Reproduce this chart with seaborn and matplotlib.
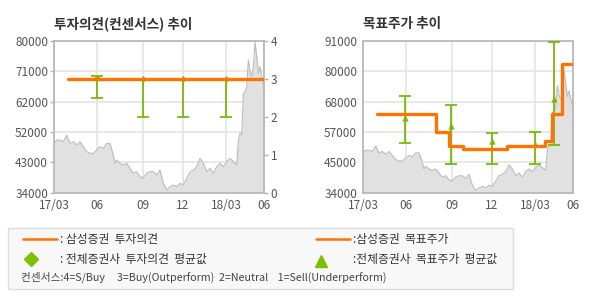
import matplotlib
matplotlib.use("Agg")
import matplotlib.pyplot as plt
import seaborn as sns
import pandas as pd
import numpy as np
from matplotlib.patches import Rectangle
from matplotlib.lines import Line2D

sns.set_theme(style="white")
plt.rcParams['font.family'] = ['Noto Sans CJK KR', 'DejaVu Sans']

# ---- data ----
price_day = [0, 3.5, 8.5, 13.5, 18.5, 23.5, 28.5, 33.5, 38.5, 43.5, 48.5, 53.5, 58.5, 63.5, 68.5,
             73.5, 78.5, 83.5, 88.5, 91, 93.5, 98.5, 103.5, 108.5, 113.5, 118.5, 123.5, 128.5, 132.5,
             138.5, 143.5, 148.5, 153.5, 158.5, 163.5, 168.5, 173.5, 178.5, 183.5, 188.5, 193, 198.5,
             203.5, 208.5, 213.5, 218.5, 223.5, 228.5, 233.5, 238.5, 243.5, 248.5, 253.5, 258.5,
             263.5, 268.5, 273.5, 276, 278.5, 281, 283.5, 286, 288.5, 291, 293.5, 296, 298.5, 301,
             303.5, 306, 308.5, 311, 313.5, 315]
price = [48960, 49970, 49970, 49470, 51490, 48960, 49470, 48460, 49470, 47950,
         46440, 45930, 45930, 46940, 47950, 47450, 48960, 48960, 45420, 42900,
         43910, 42900, 42390, 42900, 41380, 39860, 40370, 38850, 38350, 39860,
         40370, 40370, 39360, 40870, 36830, 34810, 35820, 36330, 35820, 36830,
         36330, 38350, 40370, 40870, 41890, 44410, 42900, 40370, 41380, 39860,
         41890, 42900, 41890, 43400, 44410, 43400, 42390, 49970, 52000, 51490,
         64130, 64630, 66150, 74240, 70700, 69180, 72220, 79800, 75250, 70190,
         72220, 69180, 67160, 65140]

x_tick_pos = [0, 63.5, 132.5, 193, 258, 315]
x_tick_labels = ["17/03", "06", "09", "12", "18/03", "06"]

# left chart: investment opinion
opinion_day = [21, 313.5]
opinion_val = [3, 3]
cons_day = [63.5, 132.5, 193, 258]
cons_max = [3.07, 3.0, 3.0, 3.0]
cons_min = [2.5, 2.0, 2.0, 2.0]
cons_avg = [3.03, 3.0, 3.0, 3.0]

# right chart: target price
target_day = [21, 108.5, 128.5, 149.5, 215.5, 273, 282.5, 297.5, 312.5]
target_val = [63500, 56700, 51700, 50600, 51700, 53600, 63500, 82500, 82500]
tp_day = [63, 132, 193.5, 258, 286.5]
tp_max = [70500, 66800, 56400, 56700, 90800]
tp_min = [52600, 44800, 44800, 44800, 51800]
tp_avg = [62200, 59100, 53600, 52300, 69300]

left_yticks = [34000, 43200, 52400, 61600, 70800, 80000]
left_ylabels = ["34000", "43000", "52000", "62000", "71000", "80000"]
right_yticks = [34000, 45400, 56800, 68200, 79600, 91000]
right_ylabels = ["34000", "45000", "57000", "68000", "80000", "91000"]

ORANGE = "#ff7300"
GREEN = "#78b90a"
FILL = "#e1e1e1"
EDGE = "#bcbcbc"
GRID = "#e4e4e4"
TXT = "#555555"

df_price = pd.DataFrame({"day": price_day, "price": price})

fig = plt.figure(figsize=(5.9, 3.0), dpi=100)
fig.patch.set_facecolor("white")

def base_axes(rect, yticks, ylabels, ymin, ymax):
    ax = fig.add_axes(rect)
    ax.set_facecolor("white")
    ax.fill_between(df_price["day"], df_price["price"], ymin, color=FILL, lw=0, zorder=1)
    sns.lineplot(data=df_price, x="day", y="price", ax=ax, color=EDGE, lw=0.8, zorder=2)
    ax.set_xlim(0, 315)
    ax.set_ylim(ymin, ymax)
    ax.set_xticks(x_tick_pos)
    ax.set_xticklabels(x_tick_labels)
    ax.set_yticks(yticks)
    ax.set_yticklabels(ylabels)
    ax.set_xlabel("")
    ax.set_ylabel("")
    ax.grid(True, color=GRID, lw=1.2, zorder=0)
    ax.set_axisbelow(True)
    for s in ax.spines.values():
        s.set_color("#b4b4b4")
        s.set_linewidth(1.2)
    ax.tick_params(axis="both", colors="#b4b4b4", labelcolor=TXT, labelsize=8.5,
                   length=3, width=1, direction="out", pad=1.5)
    return ax

# ---- left chart ----
axL = base_axes([0.0921, 0.3577, 0.356, 0.5057], left_yticks, left_ylabels, 34000, 80000)
axL2 = axL.twinx()
axL2.set_ylim(0, 4)
axL2.set_yticks([0, 1, 2, 3, 4])
axL2.set_yticklabels(["0", "1", "2", "3", "4"])
axL2.tick_params(axis="y", colors="#b4b4b4", labelcolor=TXT, labelsize=8.5, length=3, width=1, pad=1.5)
for s in axL2.spines.values():
    s.set_visible(False)
cons_avg_arr = np.array(cons_avg)
axL2.errorbar(cons_day, cons_avg, yerr=[cons_avg_arr - np.array(cons_min), np.array(cons_max) - cons_avg_arr],
              fmt="none", ecolor=GREEN, elinewidth=1.3, capsize=4, capthick=1.3, zorder=3)
sns.scatterplot(x=cons_day, y=cons_avg, ax=axL2, marker="D", s=10, color=GREEN, edgecolor=GREEN, zorder=4)
sns.lineplot(x=opinion_day, y=opinion_val, ax=axL2, color=ORANGE, lw=2.4, zorder=5)
axL2.set_xlim(0, 315)
axL.set_title("투자의견(컨센서스) 추이", loc="left", fontsize=9.8, fontweight="bold", color="#333333", pad=9)

# ---- right chart ----
axR = base_axes([0.6158, 0.3577, 0.356, 0.5057], right_yticks, right_ylabels, 34000, 91000)
tp_avg_arr = np.array(tp_avg)
axR.errorbar(tp_day, tp_avg, yerr=[tp_avg_arr - np.array(tp_min), np.array(tp_max) - tp_avg_arr],
             fmt="none", ecolor=GREEN, elinewidth=1.3, capsize=4, capthick=1.3, zorder=3)
sns.scatterplot(x=tp_day, y=tp_avg, ax=axR, marker="^", s=16, color=GREEN, edgecolor=GREEN, zorder=4)
sns.lineplot(x=target_day, y=target_val, ax=axR, color=ORANGE, lw=2.4, drawstyle="steps-post", zorder=5)
axR.set_title("목표주가 추이", loc="left", fontsize=9.8, fontweight="bold", color="#333333", pad=9)

# ---- legend box ----
def fx(px):
    return px / 590.0

def fy(py):
    return 1 - py / 300.0

fig.add_artist(Rectangle((fx(8), fy(289)), fx(505), 61 / 300.0, transform=fig.transFigure,
                         facecolor="#f8f8f8", edgecolor="#dddddd", lw=1))
fs = 8.5
fig.add_artist(Line2D([fx(23), fx(57)], [fy(239), fy(239)], color=ORANGE, lw=1.8, transform=fig.transFigure))
fig.text(fx(60), fy(239), ": 삼성증권  투자의견", fontsize=fs, color="#333333", va="center")
fig.add_artist(Line2D([fx(316), fx(350)], [fy(239), fy(239)], color=ORANGE, lw=1.8, transform=fig.transFigure))
fig.text(fx(353), fy(239), ":삼성증권  목표주가", fontsize=fs, color="#333333", va="center")
fig.add_artist(Line2D([fx(31)], [fy(259)], marker="D", ms=7, color="#7cc000", lw=0, transform=fig.transFigure))
fig.text(fx(60), fy(259), ": 전체증권사  투자의견  평균값", fontsize=fs, color="#333333", va="center")
fig.add_artist(Line2D([fx(321)], [fy(261)], marker="^", ms=8, color="#7cc000", lw=0, transform=fig.transFigure))
fig.text(fx(353), fy(259), ":전체증권사  목표주가  평균값", fontsize=fs, color="#333333", va="center")
fig.text(fx(21), fy(277), "컨센서스:4=S/Buy     3=Buy(Outperform)  2=Neutral    1=Sell(Underperform)",
         fontsize=7.7, color="#444444", va="center")

fig.savefig("out.png", dpi=100, facecolor="white")
